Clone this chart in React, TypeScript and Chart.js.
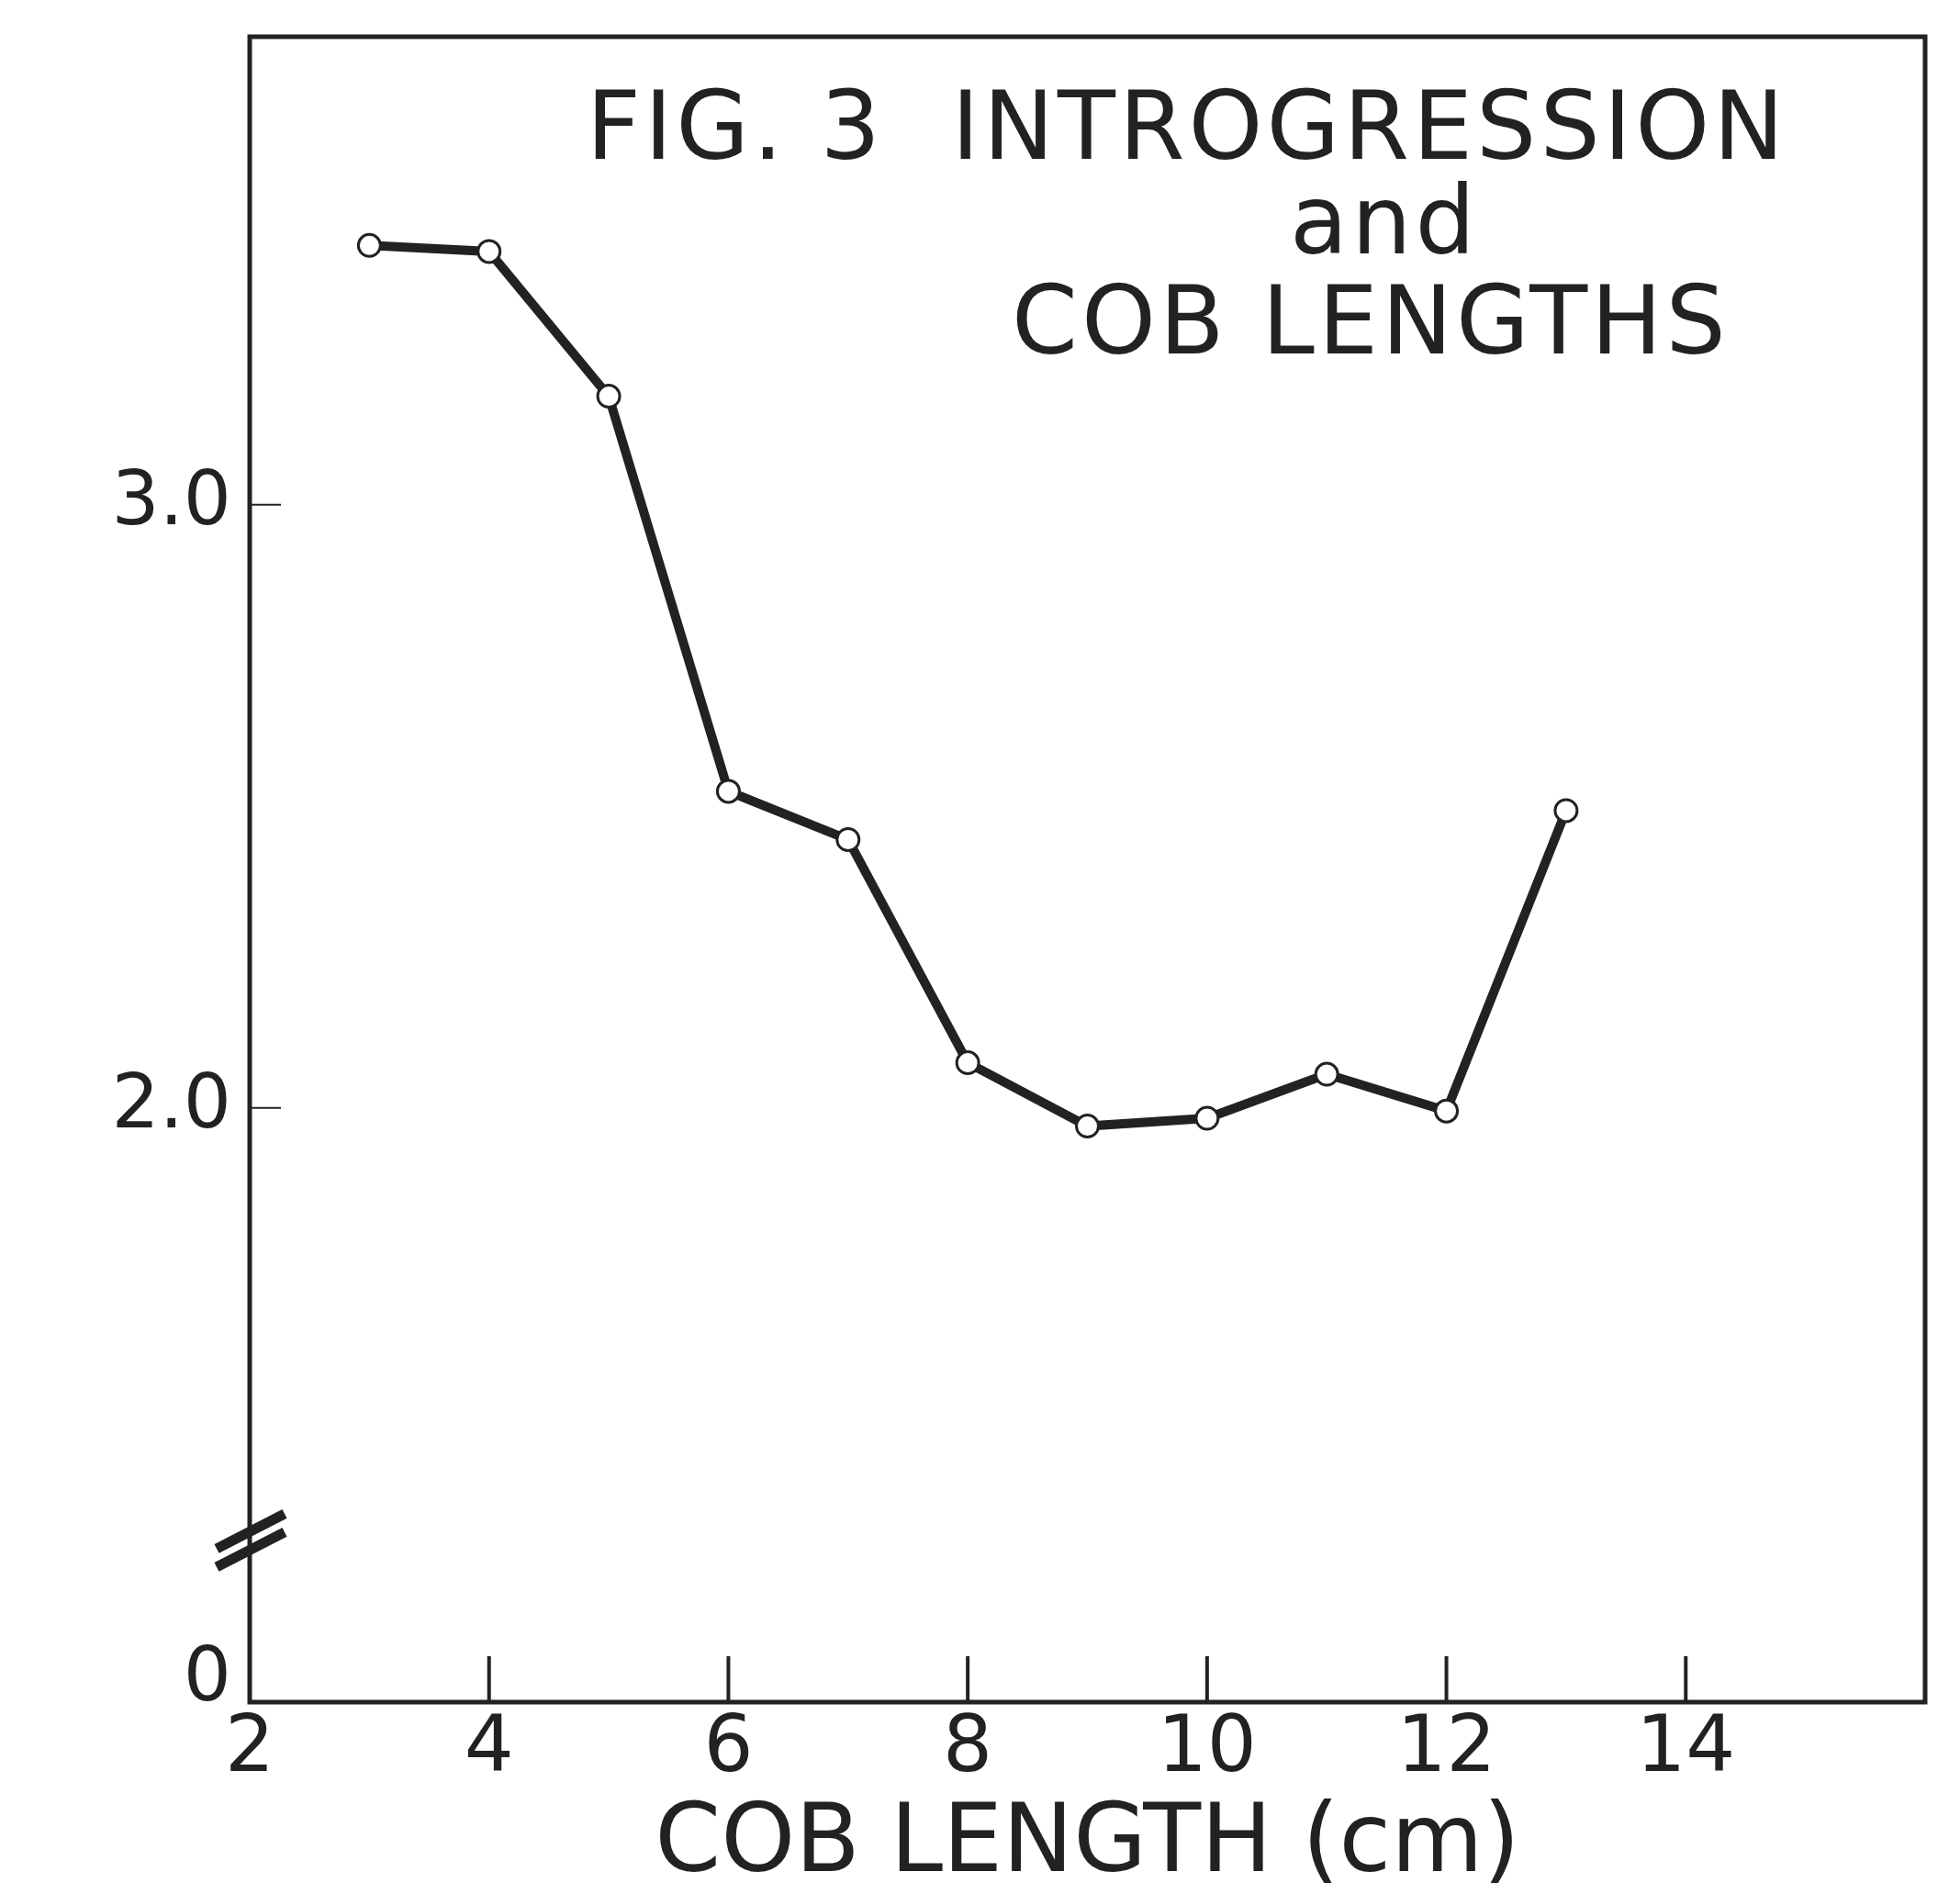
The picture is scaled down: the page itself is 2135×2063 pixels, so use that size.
import React, { useEffect, useRef } from "react";
import { Chart, registerables } from "chart.js";

Chart.register(...registerables);

// ---- data ----
const cobLengths = [3, 4, 5, 6, 7, 8, 9, 10, 11, 12, 13];
const introgression = [3.43, 3.42, 3.18, 2.525, 2.445, 2.075, 1.97, 1.983, 2.056, 1.995, 2.493];
const xTickValues = [2, 4, 6, 8, 10, 12, 14];
const yTickValues = [1.05, 2, 3];
const yTickLabels = ["0", "2.0", "3.0"];
const titleLines = ["FIG. 3  INTROGRESSION", "and", "COB LENGTHS"];
const xAxisTitle = "COB LENGTH (cm)";
const BREAK_VALUE = 1.283;
const Y_MIN = 1.015;
const Y_MAX = 3.776;
const X_MIN = 2;
const X_MAX = 16;

const W = 2135;
const H = 2063;
const FONT = '"DejaVu Sans", "Liberation Sans", sans-serif';
const INK = "#222222";

const decor = {
  id: "decor",
  afterDraw(chart: any) {
    const { ctx, chartArea: a, scales } = chart;
    const xs = scales.x;
    const ys = scales.y;
    const line = (x1: number, y1: number, x2: number, y2: number) => {
      ctx.beginPath();
      ctx.moveTo(x1, y1);
      ctx.lineTo(x2, y2);
      ctx.stroke();
    };
    ctx.save();
    ctx.strokeStyle = INK;
    ctx.lineCap = "butt";
    // frame
    ctx.lineWidth = 5;
    ctx.strokeRect(a.left, a.top, a.right - a.left, a.bottom - a.top);
    // inward x ticks
    ctx.lineWidth = 4;
    xTickValues.slice(1).forEach((v) => {
      const px = xs.getPixelForValue(v);
      line(px, a.bottom, px, a.bottom - 50);
    });
    // inward y ticks
    ctx.lineWidth = 2;
    yTickValues.slice(1).forEach((v) => {
      const py = ys.getPixelForValue(v);
      line(a.left, py, a.left + 34, py);
    });
    // axis break marks
    const by = ys.getPixelForValue(BREAK_VALUE);
    ctx.lineWidth = 11;
    [-10, 10].forEach((off) => {
      line(a.left - 36, by + off + 19, a.left + 38, by + off - 19);
    });
    // title inside the plot
    ctx.fillStyle = INK;
    ctx.font = `103px ${FONT}`;
    ctx.textAlign = "center";
    ctx.textBaseline = "alphabetic";
    (ctx as any).letterSpacing = "4px";
    ctx.fillText(titleLines[0], 1293, 173);
    ctx.fillText(titleLines[1], 1508, 276);
    ctx.fillText(titleLines[2], 1493, 385);
    ctx.restore();
  },
};

export default function App() {
  const ref = useRef<HTMLCanvasElement>(null);
  useEffect(() => {
    const canvas = ref.current;
    if (!canvas) return;
    const chart = new Chart(canvas, {
      type: "line",
      data: {
        datasets: [
          {
            data: cobLengths.map((x, i) => ({ x, y: introgression[i] })),
            borderColor: INK,
            borderWidth: 10,
            pointRadius: 12,
            pointBorderWidth: 3,
            pointBackgroundColor: "#ffffff",
            pointBorderColor: INK,
            tension: 0,
            fill: false,
          },
        ],
      },
      options: {
        responsive: false,
        maintainAspectRatio: false,
        animation: false,
        layout: { padding: { top: 40, right: 38, left: 0, bottom: 0 } },
        plugins: {
          legend: { display: false },
          tooltip: { enabled: false },
          title: { display: false },
        },
        scales: {
          x: {
            type: "linear",
            min: X_MIN,
            max: X_MAX,
            grid: { display: false, drawTicks: false },
            border: { display: false },
            afterBuildTicks: (s: any) => {
              s.ticks = xTickValues.map((v) => ({ value: v }));
            },
            afterFit: (s: any) => {
              s.height = 209;
              s.paddingLeft = 0;
              s.paddingRight = 0;
            },
            ticks: {
              color: INK,
              font: { family: FONT, size: 85 },
              padding: 2,
              maxRotation: 0,
              autoSkip: false,
              callback: (v: any) => String(v),
            },
            title: {
              display: true,
              text: xAxisTitle,
              color: INK,
              font: { family: FONT, size: 103, lineHeight: 1.0 },
              padding: { top: 0, bottom: 0 },
            },
          },
          y: {
            type: "linear",
            min: Y_MIN,
            max: Y_MAX,
            grid: { display: false, drawTicks: false },
            border: { display: false },
            afterBuildTicks: (s: any) => {
              s.ticks = yTickValues.map((v) => ({ value: v }));
            },
            afterFit: (s: any) => {
              s.width = 272;
              s.paddingTop = 0;
              s.paddingBottom = 0;
            },
            ticks: {
              color: INK,
              font: { family: FONT, size: 82 },
              padding: 20,
              autoSkip: false,
              callback: (v: any) => {
                const i = yTickValues.indexOf(Number(v));
                return i >= 0 ? yTickLabels[i] : "";
              },
            },
          },
        },
      },
      plugins: [decor],
    } as any);
    return () => chart.destroy();
  }, []);
  return (
    <div style={{ position: "absolute", left: 0, top: 0, width: W, height: H, background: "#fff" }}>
      <canvas ref={ref} width={W} height={H} style={{ display: "block", width: W, height: H }} />
    </div>
  );
}
